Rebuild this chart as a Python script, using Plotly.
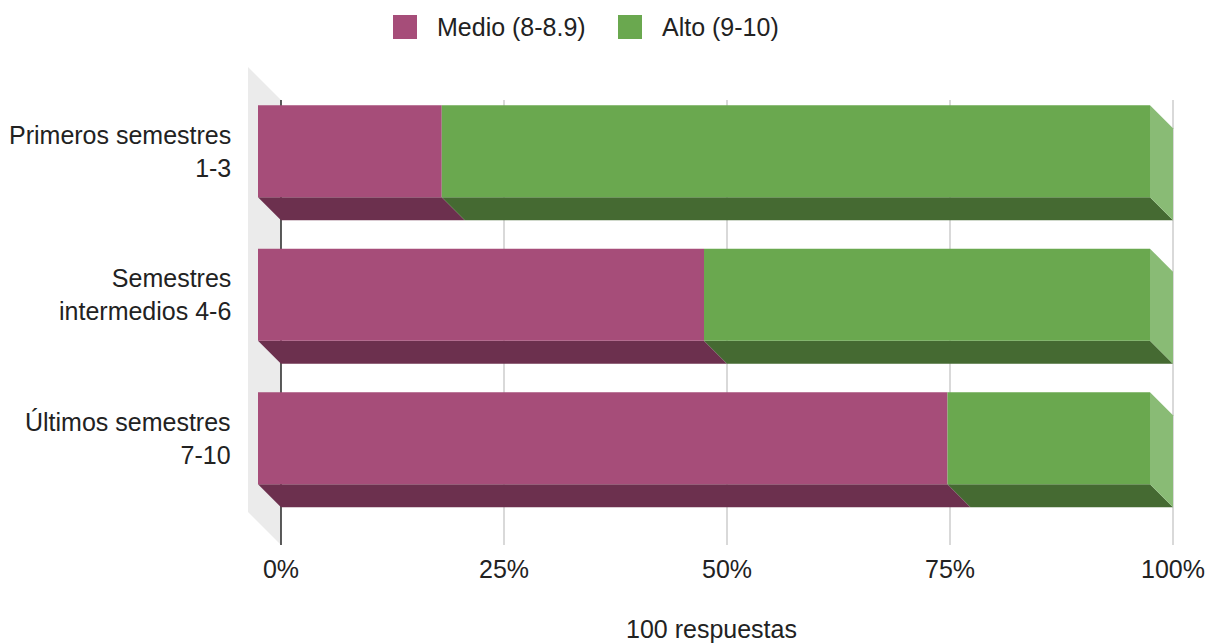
import plotly.graph_objects as go

# ---- data ----
categories = ["Primeros semestres<br>1-3", "Semestres<br>intermedios 4-6", "Últimos semestres<br>7-10"]
series_names = ["Medio (8-8.9)", "Alto (9-10)"]
medio = [20.6, 50.0, 77.3]
alto = [79.4, 50.0, 22.7]
x_ticks = [0, 25, 50, 75, 100]
x_tick_labels = ["0%", "25%", "50%", "75%", "100%"]
axis_title = "100 respuestas"

# ---- styles ----
front_colors = ["#a64d79", "#6aa84f"]
bottom_colors = ["#6c304e", "#456a32"]
side_color = "#89bb75"
wall_color = "#ebebeb"
grid_color = "#cccccc"
text_color = "#222222"
FONT = "Liberation Sans, Arial, sans-serif"
FS = 25

# ---- geometry (pixels) ----
W, H = 1215, 644
L, R, T, B = 244, 1200, 60, 548
X0PX, PX_PER_PCT = 281, 8.92
Y0PX, PX_PER_CAT = 174.2, 143.5
GRID_TOP, GRID_BOT = 100, 545
DEPTH = 23
WALL_DEPTH = 33
BAR_PX = 92
LABEL_RIGHT = 232


def xval(px):
    return (px - X0PX) / PX_PER_PCT


def yval(py):
    return (py - Y0PX) / PX_PER_CAT


def paper_x(px):
    return (px - L) / (R - L)


def paper_y(py):
    return (B - py) / (B - T)


dx = DEPTH / PX_PER_PCT
dy = DEPTH / PX_PER_CAT
h = BAR_PX / PX_PER_CAT
pos = list(range(len(categories)))

fig = go.Figure()
shapes = []
annotations = []

# left wall
wdx = WALL_DEPTH / PX_PER_PCT
wdy = WALL_DEPTH / PX_PER_CAT
gt, gb = yval(GRID_TOP), yval(GRID_BOT)
shapes.append(dict(type="path", xref="x", yref="y", layer="below", line=dict(width=0),
                   fillcolor=wall_color,
                   path=f"M {-wdx},{gt - wdy} L 0,{gt} L 0,{gb} L {-wdx},{gb - wdy} Z"))
# gridlines
for t in x_ticks:
    shapes.append(dict(type="line", xref="x", yref="y", layer="below", x0=t, x1=t, y0=gt, y1=gb,
                       line=dict(color=("#333333" if t == 0 else grid_color), width=(1.6 if t == 0 else 1.5))))

series = [medio, alto]
starts = [[0.0] * len(pos), medio]
for s, vals in enumerate(series):
    base = [st - dx for st in starts[s]]
    fig.add_trace(go.Bar(
        orientation="h", y=[p - dy for p in pos], x=vals, base=base, width=h,
        marker=dict(color=front_colors[s], line=dict(width=0)),
        name=series_names[s], showlegend=False,
        customdata=[c.replace("<br>", " ") for c in categories],
        hovertemplate="%{customdata}<br>" + series_names[s] + ": %{x}%<extra></extra>"))
    for i, p in enumerate(pos):
        a = starts[s][i]
        b = a + vals[i]
        fb = p - dy + h / 2  # front bottom
        bb = p + h / 2       # back bottom
        shapes.append(dict(type="path", xref="x", yref="y", layer="below", line=dict(width=0),
                           fillcolor=bottom_colors[s],
                           path=f"M {a - dx},{fb} L {b - dx},{fb} L {b},{bb} L {a},{bb} Z"))
        if s == len(series) - 1:
            ft = p - dy - h / 2
            bt = p - h / 2
            shapes.append(dict(type="path", xref="x", yref="y", layer="below", line=dict(width=0),
                               fillcolor=side_color,
                               path=f"M {b - dx},{ft} L {b},{bt} L {b},{bb} L {b - dx},{fb} Z"))

# category labels
for i, p in enumerate(pos):
    annotations.append(dict(xref="paper", yref="y", x=paper_x(LABEL_RIGHT), y=p - dy,
                            xanchor="right", yanchor="middle", align="right", showarrow=False,
                            borderpad=0,
                            text=categories[i], font=dict(family=FONT, size=FS, color=text_color)))

# custom legend
legend_items = [(393, 435), (618, 660)]
for s, (sq_x, tx) in enumerate(legend_items):
    shapes.append(dict(type="rect", xref="paper", yref="paper",
                       x0=paper_x(sq_x), x1=paper_x(sq_x + 24), y0=paper_y(39), y1=paper_y(15),
                       fillcolor=front_colors[s], line=dict(width=0)))
    annotations.append(dict(xref="paper", yref="paper", x=paper_x(tx), y=paper_y(27),
                            xanchor="left", yanchor="middle", showarrow=False,
                            text=series_names[s], font=dict(family=FONT, size=FS, color=text_color)))

annotations.append(dict(xref="paper", yref="paper", x=paper_x(711), y=paper_y(629),
                        xanchor="center", yanchor="middle", showarrow=False, borderpad=0,
                        text=axis_title, font=dict(family=FONT, size=FS, color=text_color)))

fig.update_layout(
    width=W, height=H, template="none",
    margin=dict(l=L, r=W - R, t=T, b=H - B, pad=0),
    paper_bgcolor="white", plot_bgcolor="white",
    showlegend=False, barmode="overlay",
    font=dict(family=FONT, size=FS, color=text_color),
    shapes=shapes, annotations=annotations,
    xaxis=dict(range=[xval(L), xval(R)], tickvals=x_ticks, ticktext=x_tick_labels,
               showgrid=False, zeroline=False, showline=False, ticks="",
               automargin=False, ticklabelstandoff=4, fixedrange=True),
    yaxis=dict(range=[yval(B), yval(T)], showticklabels=False,
               showgrid=False, zeroline=False, showline=False, ticks="",
               automargin=False, fixedrange=True),
)

fig.write_html("out.html", config={"displayModeBar": False},
               post_script="document.body.style.margin='0';document.body.style.overflow='hidden';")
